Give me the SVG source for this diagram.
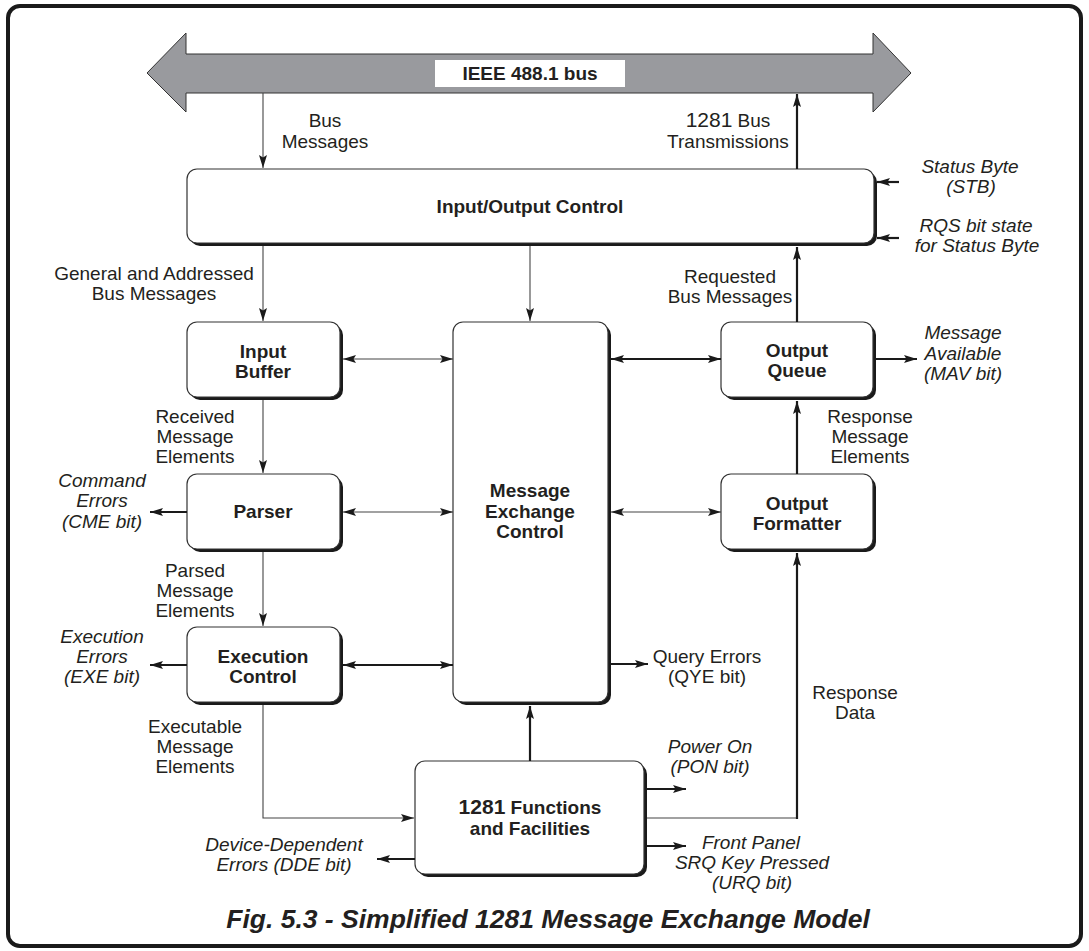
<svg xmlns="http://www.w3.org/2000/svg" width="1089" height="951" viewBox="0 0 1089 951">
<style>
.lbl{font-family:"Liberation Sans",Arial,sans-serif;font-size:19px;fill:#231f20;text-anchor:middle}
.it{font-style:italic}
.bold{font-family:"Liberation Sans",Arial,sans-serif;font-size:19px;font-weight:bold;fill:#231f20;text-anchor:middle}
.box{fill:#fff;stroke:#333;stroke-width:1.2}
.sh{fill:#1a1a1a}
.thin{fill:none;stroke:#444;stroke-width:1.1}
.thick{fill:none;stroke:#1a1a1a;stroke-width:2.2}
.cap{font-family:"Liberation Sans",Arial,sans-serif;font-size:26.5px;font-weight:bold;font-style:italic;fill:#231f20;text-anchor:middle}
</style>
<defs>
<marker id="ah" viewBox="0 0 13 8" refX="13" refY="4" markerWidth="13" markerHeight="8" markerUnits="userSpaceOnUse" orient="auto-start-reverse">
<path d="M0,0 L13,4 L0,8 L2.5,4 z" fill="#1a1a1a"/>
</marker>
</defs>
<rect x="8" y="6" width="1073" height="940" rx="12" fill="#fff" stroke="#1a1a1a" stroke-width="4"/>

<g id="bus">
<polygon points="147,73 186,33 186,54 873,54 873,33 911,73 873,112 873,93 186,93 186,112" fill="#999a9e" stroke="#333" stroke-width="1"/>
<rect x="435" y="60" width="190" height="27" fill="#fff"/>
<text class="bold" x="530" y="80">IEEE 488.1 bus</text>
</g>

<g id="io-control">
<rect class="sh" x="190" y="172" width="687" height="74" rx="10"/>
<rect class="box" x="187" y="169" width="687" height="74" rx="10"/>
<text class="bold" x="530" y="213">Input/Output Control</text>
</g>

<g id="input-buffer">
<rect class="sh" x="190" y="325" width="153" height="75" rx="10"/>
<rect class="box" x="187" y="322" width="153" height="75" rx="10"/>
<text class="bold" x="263" y="358">Input</text>
<text class="bold" x="263" y="378">Buffer</text>
</g>

<g id="parser">
<rect class="sh" x="190" y="477" width="153" height="75" rx="10"/>
<rect class="box" x="187" y="474" width="153" height="75" rx="10"/>
<text class="bold" x="263" y="518">Parser</text>
</g>

<g id="execution-control">
<rect class="sh" x="190" y="630" width="153" height="75" rx="10"/>
<rect class="box" x="187" y="627" width="153" height="75" rx="10"/>
<text class="bold" x="263" y="663">Execution</text>
<text class="bold" x="263" y="683">Control</text>
</g>

<g id="message-exchange-control">
<rect class="sh" x="456" y="325" width="155" height="380" rx="10"/>
<rect class="box" x="453" y="322" width="155" height="380" rx="10"/>
<text class="bold" x="530" y="497">Message</text>
<text class="bold" x="530" y="518">Exchange</text>
<text class="bold" x="530" y="538">Control</text>
</g>

<g id="output-queue">
<rect class="sh" x="724" y="325" width="152" height="75" rx="10"/>
<rect class="box" x="721" y="322" width="152" height="75" rx="10"/>
<text class="bold" x="797" y="357">Output</text>
<text class="bold" x="797" y="377">Queue</text>
</g>

<g id="output-formatter">
<rect class="sh" x="724" y="477" width="152" height="75" rx="10"/>
<rect class="box" x="721" y="474" width="152" height="75" rx="10"/>
<text class="bold" x="797" y="510">Output</text>
<text class="bold" x="797" y="530">Formatter</text>
</g>

<g id="functions-facilities">
<rect class="sh" x="418" y="764" width="229" height="113" rx="10"/>
<rect class="box" x="415" y="761" width="229" height="113" rx="10"/>
<text class="bold" x="530" y="814"><tspan font-size="21">1281</tspan> Functions</text>
<text class="bold" x="530" y="835">and Facilities</text>
</g>

<g id="connectors">
<path class="thin" d="M263,93 V168" marker-end="url(#ah)"/>
<path class="thick" d="M797,169 V94" marker-end="url(#ah)"/>
<path class="thick" d="M899,182 H877" marker-end="url(#ah)"/>
<path class="thick" d="M899,238 H877" marker-end="url(#ah)"/>
<path class="thin" d="M263,246 V321" marker-end="url(#ah)"/>
<path class="thin" d="M530,246 V321" marker-end="url(#ah)"/>
<path class="thick" d="M797,322 V247" marker-end="url(#ah)"/>
<path class="thin" d="M343,359 H453" marker-start="url(#ah)" marker-end="url(#ah)"/>
<path class="thin" d="M343,512 H453" marker-start="url(#ah)" marker-end="url(#ah)"/>
<path class="thick" d="M343,665 H453" marker-start="url(#ah)" marker-end="url(#ah)"/>
<path class="thick" d="M611,359 H721" marker-start="url(#ah)" marker-end="url(#ah)"/>
<path class="thin" d="M611,512 H721" marker-start="url(#ah)" marker-end="url(#ah)"/>
<path class="thin" d="M263,400 V473" marker-end="url(#ah)"/>
<path class="thin" d="M263,552 V626" marker-end="url(#ah)"/>
<path class="thin" d="M263,705 V818 H414" marker-end="url(#ah)"/>
<path class="thick" d="M530,761 V706" marker-end="url(#ah)"/>
<path class="thick" d="M797,474 V401" marker-end="url(#ah)"/>
<path class="thin" d="M647,818 H797" />
<path class="thick" d="M797,819 V553" marker-end="url(#ah)"/>
<path class="thick" d="M876,359 H917" marker-end="url(#ah)"/>
<path class="thick" d="M187,512 H150" marker-end="url(#ah)"/>
<path class="thick" d="M187,665 H150" marker-end="url(#ah)"/>
<path class="thick" d="M611,664 H648" marker-end="url(#ah)"/>
<path class="thick" d="M647,789 H686" marker-end="url(#ah)"/>
<path class="thick" d="M647,846 H686" marker-end="url(#ah)"/>
<path class="thick" d="M415,859 H377" marker-end="url(#ah)"/>
</g>

<g id="labels">
<text class="lbl" x="325" y="127">Bus</text>
<text class="lbl" x="325" y="148">Messages</text>
<text class="lbl" x="728" y="127"><tspan font-size="21">1281</tspan> Bus</text>
<text class="lbl" x="728" y="148">Transmissions</text>
<text class="lbl it" x="970" y="173">Status Byte</text>
<text class="lbl it" x="971" y="193">(STB)</text>
<text class="lbl it" x="976" y="232">RQS bit state</text>
<text class="lbl it" x="977" y="252">for Status Byte</text>
<text class="lbl" x="154" y="280">General and Addressed</text>
<text class="lbl" x="154" y="300">Bus Messages</text>
<text class="lbl" x="730" y="283">Requested</text>
<text class="lbl" x="730" y="303">Bus Messages</text>
<text class="lbl it" x="963" y="339">Message</text>
<text class="lbl it" x="963" y="360">Available</text>
<text class="lbl it" x="963" y="380">(MAV bit)</text>
<text class="lbl" x="195" y="423">Received</text>
<text class="lbl" x="195" y="443">Message</text>
<text class="lbl" x="195" y="463">Elements</text>
<text class="lbl" x="870" y="423">Response</text>
<text class="lbl" x="870" y="443">Message</text>
<text class="lbl" x="870" y="463">Elements</text>
<text class="lbl it" x="102" y="487">Command</text>
<text class="lbl it" x="102" y="507">Errors</text>
<text class="lbl it" x="102" y="528">(CME bit)</text>
<text class="lbl" x="195" y="577">Parsed</text>
<text class="lbl" x="195" y="597">Message</text>
<text class="lbl" x="195" y="617">Elements</text>
<text class="lbl it" x="102" y="643">Execution</text>
<text class="lbl it" x="102" y="663">Errors</text>
<text class="lbl it" x="102" y="683">(EXE bit)</text>
<text class="lbl" x="707" y="663">Query Errors</text>
<text class="lbl" x="707" y="683">(QYE bit)</text>
<text class="lbl" x="855" y="699">Response</text>
<text class="lbl" x="855" y="719">Data</text>
<text class="lbl" x="195" y="733">Executable</text>
<text class="lbl" x="195" y="753">Message</text>
<text class="lbl" x="195" y="773">Elements</text>
<text class="lbl it" x="710" y="753">Power On</text>
<text class="lbl it" x="710" y="773">(PON bit)</text>
<text class="lbl it" x="284" y="851">Device-Dependent</text>
<text class="lbl it" x="284" y="871">Errors (DDE bit)</text>
<text class="lbl it" x="751" y="849">Front Panel</text>
<text class="lbl it" x="752" y="869">SRQ Key Pressed</text>
<text class="lbl it" x="752" y="889">(URQ bit)</text>
<text class="cap" x="548" y="928">Fig. 5.3 - Simplified 1281 Message Exchange Model</text>
</g>
</svg>
